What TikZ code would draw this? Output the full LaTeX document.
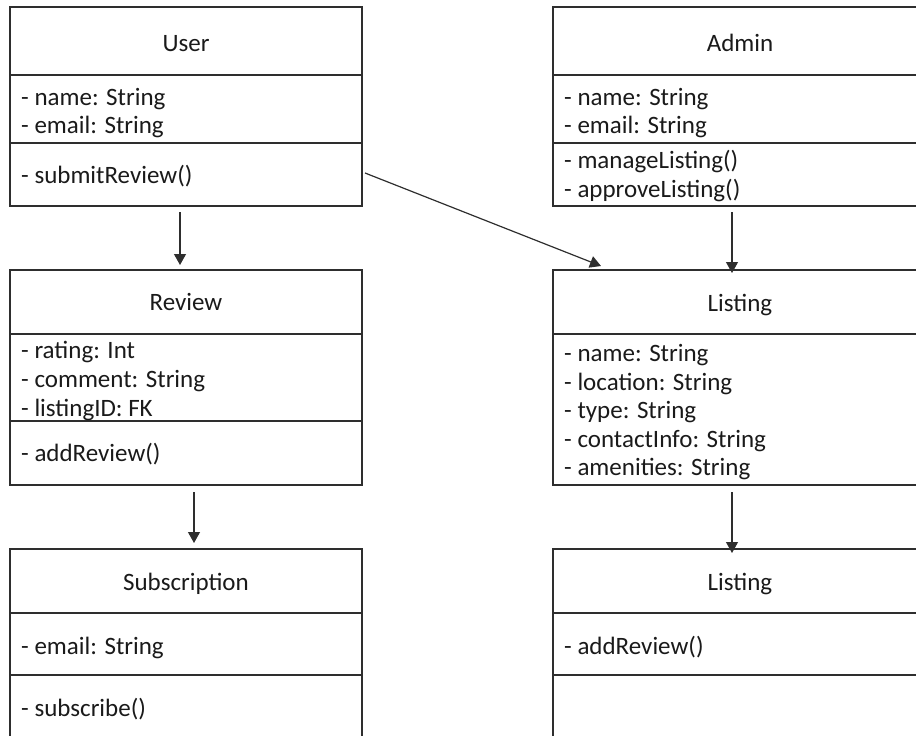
\documentclass[tikz,border=0pt]{standalone}
\usepackage{fontspec}
\setmainfont{Carlito}
\usetikzlibrary{arrows.meta}
\definecolor{ln}{HTML}{2E2E2E}
\definecolor{tx}{HTML}{1A1A1A}
\begin{document}
\begin{tikzpicture}[x=1pt,y=-1pt,
  box/.style={draw=ln, line width=1.4pt, anchor=north west, inner sep=0pt, outer sep=0pt},
  sep/.style={draw=ln, line width=1.4pt},
  title/.style={anchor=base, inner sep=0pt, text=tx, font=\fontsize{25}{28}\selectfont},
  item/.style={anchor=base west, inner sep=0pt, text=tx, font=\fontsize{25}{28}\selectfont},
  arr/.style={draw=ln, line width=1.2pt, -{Triangle[length=11pt,width=12pt]}}]
\useasboundingbox (0,0) rectangle (916,736);
\clip (0,0) rectangle (916,736);

% User
\node[box, minimum width=352pt, minimum height=199pt] (user) at (10,7) {};
\draw[sep] (10,75) -- (362,75);
\draw[sep] (10,143) -- (362,143);
\node[title] (userT) at (186,51) {User};
\node[item] (userA1) at (21,105) {- name: String};
\node[item] (userA2) at (21,133) {- email: String};
\node[item] (userM1) at (21,183) {- submitReview()};

% Admin
\node[box, minimum width=374pt, minimum height=199pt] (admin) at (553,7) {};
\draw[sep] (553,75) -- (927,75);
\draw[sep] (553,143) -- (927,143);
\node[title] (adminT) at (740,51) {Admin};
\node[item] (adminA1) at (564,105) {- name: String};
\node[item] (adminA2) at (564,133) {- email: String};
\node[item] (adminM1) at (564,168) {- manageListing()};
\node[item] (adminM2) at (564,197) {- approveListing()};

% Review
\node[box, minimum width=352pt, minimum height=215pt] (review) at (10,270) {};
\draw[sep] (10,334) -- (362,334);
\draw[sep] (10,421) -- (362,421);
\node[title] (reviewT) at (186,310) {Review};
\node[item] (reviewA1) at (21,358) {- rating: Int};
\node[item] (reviewA2) at (21,387) {- comment: String};
\node[item] (reviewA3) at (21,416) {- listingID: FK};
\node[item] (reviewM1) at (21,461) {- addReview()};

% Listing
\node[box, minimum width=374pt, minimum height=215pt] (listing) at (553,270) {};
\draw[sep] (553,334) -- (927,334);
\node[title] (listingT) at (740,311) {Listing};
\node[item] (listingA1) at (564,361) {- name: String};
\node[item] (listingA2) at (564,390) {- location: String};
\node[item] (listingA3) at (564,418) {- type: String};
\node[item] (listingA4) at (564,447) {- contactInfo: String};
\node[item] (listingA5) at (564,475) {- amenities: String};

% Subscription
\node[box, minimum width=352pt, minimum height=215pt] (subs) at (10,549) {};
\draw[sep] (10,613) -- (362,613);
\draw[sep] (10,675) -- (362,675);
\node[title] (subsT) at (186,590) {Subscription};
\node[item] (subsA1) at (21,654) {- email: String};
\node[item] (subsM1) at (21,716) {- subscribe()};

% second Listing
\node[box, minimum width=374pt, minimum height=215pt] (listingB) at (553,549) {};
\draw[sep] (553,613) -- (927,613);
\draw[sep] (553,675) -- (927,675);
\node[title] (listingBT) at (740,590) {Listing};
\node[item] (listingBM1) at (564,654) {- addReview()};

% connector ends
\coordinate (uOut) at (180,212);
\coordinate (rIn) at (180,265);
\coordinate (uSide) at (365,173);
\coordinate (lTop) at (601,266);
\coordinate (aOut) at (732,212);
\coordinate (lIn) at (732,273);
\coordinate (rOut) at (194,492);
\coordinate (sIn) at (194,543);
\coordinate (lOut) at (732,492);
\coordinate (lbIn) at (732,553);

\draw[arr] (uOut) -- (rIn);
\draw[arr] (uSide) -- (lTop);
\draw[arr] (aOut) -- (lIn);
\draw[arr] (rOut) -- (sIn);
\draw[arr] (lOut) -- (lbIn);
\end{tikzpicture}
\end{document}
